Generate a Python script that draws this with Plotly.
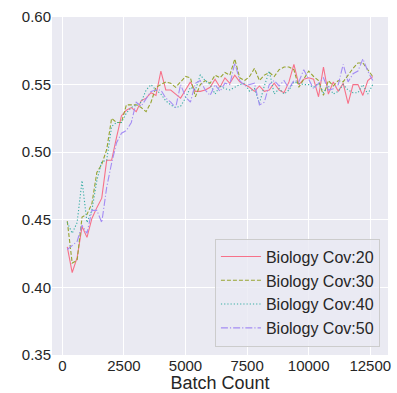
import plotly.graph_objects as go

batch = list(range(200, 12601, 200))

cov20 = [0.430, 0.411, 0.422, 0.445, 0.437, 0.451, 0.459, 0.466, 0.494, 0.494,
         0.511, 0.527, 0.531, 0.533, 0.530, 0.538, 0.540, 0.544, 0.542, 0.560,
         0.546, 0.546, 0.543, 0.540, 0.546, 0.552, 0.545, 0.545, 0.546, 0.548,
         0.554, 0.548, 0.555, 0.551, 0.557, 0.552, 0.550, 0.548, 0.545, 0.549,
         0.545, 0.546, 0.551, 0.546, 0.544, 0.552, 0.565, 0.550, 0.554, 0.555,
         0.554, 0.541, 0.563, 0.543, 0.552, 0.545, 0.551, 0.536, 0.550, 0.550,
         0.542, 0.553, 0.556]
cov30 = [0.449, 0.418, 0.420, 0.452, 0.454, 0.462, 0.485, 0.491, 0.502, 0.525,
         0.522, 0.522, 0.535, 0.535, 0.535, 0.533, 0.530, 0.537, 0.548, 0.550,
         0.552, 0.551, 0.548, 0.552, 0.556, 0.555, 0.541, 0.550, 0.553, 0.551,
         0.557, 0.555, 0.559, 0.557, 0.569, 0.555, 0.553, 0.556, 0.562, 0.553,
         0.557, 0.559, 0.556, 0.561, 0.563, 0.563, 0.561, 0.548, 0.554, 0.560,
         0.556, 0.553, 0.542, 0.553, 0.549, 0.553, 0.552, 0.557, 0.562, 0.566,
         0.566, 0.561, 0.556]
cov40 = [0.448, 0.440, 0.448, 0.479, 0.448, 0.457, 0.479, 0.493, 0.494, 0.519,
         0.522, 0.522, 0.529, 0.533, 0.535, 0.537, 0.546, 0.550, 0.546, 0.543,
         0.538, 0.535, 0.533, 0.534, 0.540, 0.548, 0.546, 0.557, 0.553, 0.550,
         0.543, 0.549, 0.547, 0.546, 0.548, 0.550, 0.551, 0.545, 0.547, 0.536,
         0.549, 0.560, 0.543, 0.547, 0.543, 0.546, 0.552, 0.551, 0.550, 0.550,
         0.548, 0.551, 0.544, 0.549, 0.543, 0.545, 0.550, 0.546, 0.544, 0.544,
         0.550, 0.543, 0.550]
cov50 = [0.428, 0.431, 0.434, 0.446, 0.440, 0.457, 0.457, 0.448, 0.474, 0.492,
         0.507, 0.514, 0.516, 0.522, 0.537, 0.534, 0.540, 0.545, 0.546, 0.546,
         0.540, 0.537, 0.533, 0.550, 0.541, 0.537, 0.551, 0.553, 0.546, 0.542,
         0.550, 0.545, 0.551, 0.550, 0.566, 0.553, 0.549, 0.550, 0.551, 0.535,
         0.537, 0.550, 0.553, 0.549, 0.553, 0.547, 0.553, 0.552, 0.561, 0.554,
         0.547, 0.551, 0.555, 0.546, 0.547, 0.550, 0.565, 0.552, 0.558, 0.560,
         0.569, 0.560, 0.553]

names = ["Biology Cov:20", "Biology Cov:30", "Biology Cov:40", "Biology Cov:50"]
colors = ["#f77189", "#97a431", "#36ada4", "#a48cf4"]
dashes = ["solid", "4px,2px", "1.2px,2px", "7px,2px,1.2px,2px"]
series = [cov20, cov30, cov40, cov50]

x_ticks = [0, 2500, 5000, 7500, 10000, 12500]
x_labels = ["0", "2500", "5000", "7500", "10000", "12500"]
y_ticks = [0.35, 0.40, 0.45, 0.50, 0.55, 0.60]

fig = go.Figure()
for n, c, d, s in zip(names, colors, dashes, series):
    fig.add_trace(go.Scatter(x=batch, y=s, mode="lines", name=n,
                             line=dict(color=c, width=1.1, dash=d)))

font = "Liberation Sans, Arial, sans-serif"
fig.update_layout(
    width=397, height=393,
    margin=dict(l=52, r=6, t=17, b=38),
    paper_bgcolor="white", plot_bgcolor="#eaeaf2",
    font=dict(family=font, size=15, color="#262626"),
    showlegend=True,
    legend=dict(x=0.976, y=0.025, xanchor="right", yanchor="bottom",
                bgcolor="rgba(234,234,242,0.8)", bordercolor="#cccccc", borderwidth=1,
                font=dict(size=16, color="#262626"), tracegroupgap=0,
                itemwidth=40),
    xaxis=dict(range=[-420, 13220], tickvals=x_ticks, ticktext=x_labels,
               showgrid=True, gridcolor="white", gridwidth=1, zeroline=False,
               showline=False, ticks="", tickfont=dict(size=15),
               title=dict(text="Batch Count", font=dict(size=18), standoff=0)),
    yaxis=dict(range=[0.35, 0.60], tickvals=y_ticks,
               tickformat=".2f", showgrid=True, gridcolor="white", gridwidth=1,
               zeroline=False, showline=False, ticks="", tickfont=dict(size=15)),
)
fig.write_html("out.html")
